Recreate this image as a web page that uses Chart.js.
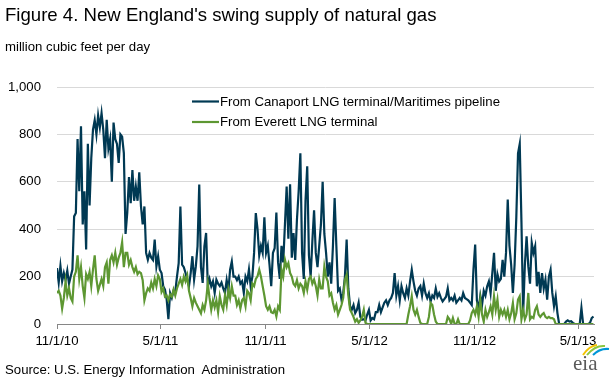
<!DOCTYPE html>
<html><head><meta charset="utf-8">
<script src="https://cdn.jsdelivr.net/npm/chart.js@4.4.0/dist/chart.umd.min.js"></script>
<style>
html,body{margin:0;padding:0;background:#fff;}
#wrap{position:relative;width:613px;height:388px;overflow:hidden;font-family:"Liberation Sans",Arial,sans-serif;color:#000;}
#c{position:absolute;left:0;top:0;}
.t{position:absolute;white-space:pre;line-height:1;}
#logo{position:absolute;left:568px;top:340px;}
</style></head><body>
<div id="wrap">
<canvas id="c" width="613" height="388"></canvas>
<div class="t" style="left:5px;top:6px;font-size:18.6px;">Figure 4. New England's swing supply of natural gas</div>
<div class="t" style="left:5px;top:40px;font-size:13.2px;">million cubic feet per day</div>
<div class="t" style="left:5px;top:363px;font-size:13.2px;">Source: U.S. Energy Information  Administration</div>
<svg id="logo" width="44" height="46" viewBox="0 0 44 46">
  <path d="M15 15 Q21 6 29 5" stroke="#f3c300" stroke-width="2" fill="none"/>
  <path d="M19 15 Q27 5 37 6" stroke="#8cc63f" stroke-width="2" fill="none"/>
  <path d="M25 15 Q32 8 41 9" stroke="#0096d7" stroke-width="2" fill="none"/>
  <text x="5" y="30" font-family="Liberation Serif, DejaVu Serif, serif" font-size="21" fill="#5a5a5a">eia</text>
</svg>
</div>
<script>
// Daily flows, every 3 days starting 11/1/2010 (day 0)
const startDateLabel = '11/1/10';
const stepDays = 3;
const canaportValues = [
 // 11/1/10 - early Apr 2011
 236,175,245,180,215,185,225,170,200,230,
 454,468,780,560,834,420,560,314,760,500,
 700,820,860,800,880,830,890,820,700,862,
 740,780,600,850,780,760,680,800,790,721,
 380,470,620,510,650,520,580,520,640,496,
 420,496,
 // Apr 2011 - Sep 2011
 300,271,300,280,270,356,243,286,229,215,
 159,145,103,20,131,110,140,135,200,257,
 496,250,240,215,187,159,215,286,187,243,
 328,588,240,173,328,384,160,190,159,180,
 131,187,170,160,175,150,131,185,140,229,
 264,200,
 // Sep 2011 - Feb 2012
 200,185,200,170,180,131,200,180,230,160,
 200,300,468,400,290,330,300,450,300,330,
 250,160,300,320,470,260,190,330,260,420,
 580,360,590,280,384,270,440,560,720,300,
 190,520,665,290,200,350,480,300,240,330,
 420,600,380,
 // Feb 2012 - Jul 2012
 300,200,260,170,328,532,330,140,150,103,
 130,200,356,150,75,60,80,46,60,90,
 30,18,20,15,40,60,15,25,20,50,
 50,80,50,70,90,100,80,100,110,131,
 215,120,160,100,160,130,110,150,120,180,
 229,180,
 // Jul 2012 - Dec 2012
 140,120,150,160,120,170,130,110,130,95,
 120,110,150,115,130,110,95,105,115,150,
 100,110,100,120,90,100,110,100,130,110,
 105,100,90,80,230,335,100,60,120,80,
 140,120,159,180,130,215,300,140,210,180,
 190,271,
 // Dec 2012 - May 2013
 200,300,525,330,250,131,250,450,720,760,
 430,46,250,370,243,170,343,300,328,159,
 220,131,215,150,187,103,200,229,131,75,
 117,46,0,0,0,0,10,15,10,12,
 5,0,0,0,0,68,0,0,0,0,
 5,25,32
];
const everettValues = [
 131,140,120,65,110,180,120,150,110,95,
 200,220,290,190,240,160,110,210,190,220,
 160,230,290,190,140,165,190,160,240,260,
 170,270,290,260,300,250,280,300,345,240,
 300,300,250,270,240,220,240,210,220,215,
 185,100,
 130,150,140,175,150,190,160,205,190,135,
 150,115,120,100,125,115,145,120,150,170,
 190,165,200,180,205,140,110,75,110,90,
 75,60,45,80,60,100,170,110,60,100,
 70,100,50,117,80,60,120,80,145,110,
 159,120,
 120,80,100,65,100,110,75,140,130,100,
 170,160,190,201,229,200,160,120,75,60,
 75,50,46,60,32,75,60,229,200,271,
 240,257,215,200,170,160,185,150,170,160,
 131,180,145,190,200,170,187,160,120,187,
 150,150,243,
 200,180,120,130,90,60,80,40,60,80,
 110,187,208,120,60,46,30,10,20,5,
 15,30,60,5,0,0,0,0,0,0,
 0,0,0,0,0,0,0,0,0,0,
 0,0,0,0,0,0,0,0,40,75,
 117,60,
 40,60,30,5,0,0,0,0,30,89,
 80,40,10,0,0,0,0,0,0,30,
 20,0,25,0,0,20,0,0,0,0,
 0,0,15,46,60,40,75,30,103,40,
 10,60,30,50,75,40,117,60,103,30,
 60,40,
 60,30,60,20,45,89,20,45,103,117,
 20,60,20,40,131,20,30,25,60,75,
 40,30,40,46,30,25,30,25,25,20,
 0,0,0,0,0,0,0,0,0,0,
 0,0,0,0,0,0,0,0,0,0,
 0,0,0
];
const seriesNames = ['From Canaport LNG terminal/Maritimes pipeline','From Everett LNG terminal'];
// x tick labels and their day offsets from 11/1/10
const tickLabels = ['11/1/10','5/1/11','11/1/11','5/1/12','11/1/12','5/1/13'];
const tickDays = [0,181,365,547,731,912];
const yTicks = [0,200,400,600,800,1000];

const FONT = '"Liberation Sans", Arial, sans-serif';
const toPoints = vals => vals.map((v,i)=>({x:i*stepDays, y:v}));
const lastDay = (canaportValues.length-1)*stepDays;

const legendPlugin = {
  id:'insideLegend',
  afterDraw(chart){
    const ctx = chart.ctx;
    ctx.save();
    chart.data.datasets.forEach((ds,i)=>{
      const y = 101.5 + i*20.5;
      ctx.strokeStyle = ds.borderColor; ctx.lineWidth = 2.2;
      ctx.beginPath(); ctx.moveTo(192,y); ctx.lineTo(219,y); ctx.stroke();
      ctx.fillStyle = '#000'; ctx.font = '13.2px ' + FONT; ctx.textBaseline = 'middle'; ctx.textAlign='left';
      ctx.fillText(ds.label, 220, y+0.5);
    });
    ctx.restore();
  }
};

new Chart(document.getElementById('c'), {
  type:'line',
  data:{datasets:[
    {label:seriesNames[0], data:toPoints(canaportValues), borderColor:'#003953', borderWidth:2.2, pointRadius:0, tension:0, order:2},
    {label:seriesNames[1], data:toPoints(everettValues), borderColor:'#5d9732', borderWidth:2.2, pointRadius:0, tension:0, order:1}
  ]},
  options:{
    responsive:false, animation:false, devicePixelRatio:1,
    layout:{padding:{top:87,right:19,bottom:0,left:0}},
    plugins:{legend:{display:false}, tooltip:{enabled:false}, title:{display:false}},
    scales:{
      x:{type:'linear', min:0, max:lastDay+1,
        afterBuildTicks:s=>{ s.ticks = tickDays.map(v=>({value:v})); },
        afterFit:s=>{ s.height = 64; },
        ticks:{callback:(v,i)=>tickLabels[i], color:'#000', font:{size:13.2,family:FONT}, padding:4, maxRotation:0, autoSkip:false},
        grid:{drawOnChartArea:false, drawTicks:true, tickLength:5, color:'#868686'},
        border:{color:'#868686', width:1}
      },
      y:{min:0, max:1000,
        afterBuildTicks:s=>{ s.ticks = yTicks.map(v=>({value:v})); },
        afterFit:s=>{ s.width = 57; },
        ticks:{callback:v=>v.toLocaleString('en-US'), color:'#000', font:{size:13.2,family:FONT}, padding:16},
        grid:{drawTicks:false, color:c=>c.tick && c.tick.value===0 ? 'rgba(0,0,0,0)' : '#d9d9d9'},
        border:{display:false}
      }
    }
  },
  plugins:[legendPlugin]
});
</script>
</body></html>
